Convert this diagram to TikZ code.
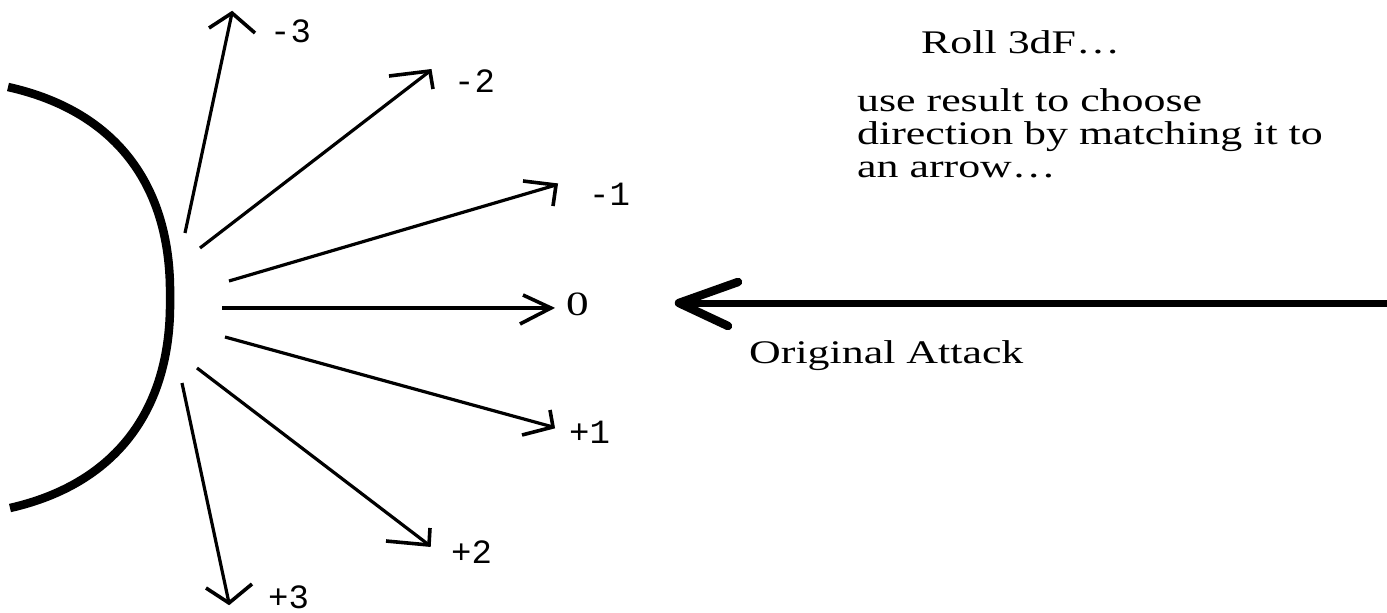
\documentclass[tikz,border=0pt]{standalone}
\usepackage{fontspec}
\setmainfont{Liberation Serif}[FakeStretch=1.33]
\newfontfamily\lblfont{Liberation Mono}
\tikzset{
  ray/.style={line width=3.2pt},
  rayhead/.style={line width=3.6pt, line join=miter},
  shield/.style={line width=8.5pt},
  attack/.style={line width=7pt},
  attackhead/.style={line width=8.5pt, line cap=round, line join=round},
  lbl/.style={anchor=base west, inner sep=0pt, font=\lblfont\fontsize{34}{34}\selectfont},
  zlbl/.style={anchor=base west, inner sep=0pt, font=\fontsize{34}{34}\selectfont},
  txt/.style={anchor=base west, inner sep=0pt, font=\fontsize{33}{33}\selectfont}
}
\begin{document}
\begin{tikzpicture}[x=1pt,y=-1pt]
\useasboundingbox[fill=white] (0,0) rectangle (1387,613);
% shield arc
\draw[shield] (8,87) .. controls (120,112) and (172,190) .. (170,298)
                     .. controls (172,405) and (120,483) .. (10,508);
% ray start / tip coordinates
\coordinate (sm3) at (185,233); \coordinate (tm3) at (232,13);
\coordinate (sm2) at (200,248); \coordinate (tm2) at (430,71);
\coordinate (sm1) at (229,281); \coordinate (tm1) at (556,185);
\coordinate (s0)  at (222,308); \coordinate (t0)  at (551,308);
\coordinate (sp1) at (225,337); \coordinate (tp1) at (553,427);
\coordinate (sp2) at (197,368); \coordinate (tp2) at (429,545);
\coordinate (sp3) at (182,383); \coordinate (tp3) at (229,603);
% head arm ends
\coordinate (am3a) at (209,28);  \coordinate (am3b) at (255,33);
\coordinate (am2a) at (389,76);  \coordinate (am2b) at (433,89);
\coordinate (am1a) at (523,181); \coordinate (am1b) at (553,206);
\coordinate (a0a)  at (523,295); \coordinate (a0b)  at (520,324);
\coordinate (ap1a) at (550,410); \coordinate (ap1b) at (522,435);
\coordinate (ap2a) at (430,528); \coordinate (ap2b) at (386,541);
\coordinate (ap3a) at (206,588); \coordinate (ap3b) at (252,584);
% rays
\draw[ray] (sm3) -- (tm3); \draw[rayhead] (am3a) -- (tm3) -- (am3b);
\draw[ray] (sm2) -- (tm2); \draw[rayhead] (am2a) -- (tm2) -- (am2b);
\draw[ray] (sm1) -- (tm1); \draw[rayhead] (am1a) -- (tm1) -- (am1b);
\draw[ray] (s0)  -- (t0);  \draw[rayhead] (a0a)  -- (t0)  -- (a0b);
\draw[ray] (sp1) -- (tp1); \draw[rayhead] (ap1a) -- (tp1) -- (ap1b);
\draw[ray] (sp2) -- (tp2); \draw[rayhead] (ap2a) -- (tp2) -- (ap2b);
\draw[ray] (sp3) -- (tp3); \draw[rayhead] (ap3a) -- (tp3) -- (ap3b);
% labels
\node[lbl] (lm3) at (270,42)  {-3};
\node[lbl] (lm2) at (454,92)  {-2};
\node[lbl] (lm1) at (589,205) {-1};
\node[zlbl] (l0) at (566,315) {0};
\node[lbl] (lp1) at (569,443) {+1};
\node[lbl] (lp2) at (451,563) {+2};
\node[lbl] (lp3) at (268,608) {+3};
% original attack
\coordinate (atkstart) at (1387,303);
\coordinate (atktip) at (679,303);
\coordinate (atka) at (738,282);
\coordinate (atkb) at (728,326);
\draw[attack] (atkstart) -- (atktip);
\draw[attackhead] (atka) -- (atktip) -- (atkb);
\node[txt] (atklabel) at (749,363) {Original Attack};
% instructions
\node[txt] (roll) at (921,53) {Roll 3dF…};
\node[txt] (use1) at (857,111) {use result to choose};
\node[txt] (use2) at (857,144) {direction by matching it to};
\node[txt] (use3) at (857,177) {an arrow…};
\end{tikzpicture}
\end{document}
